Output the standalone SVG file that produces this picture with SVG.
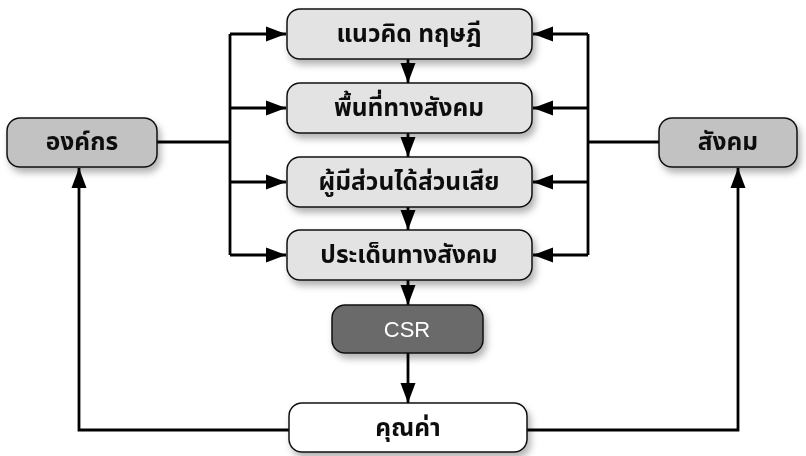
<svg xmlns="http://www.w3.org/2000/svg" width="806" height="456" viewBox="0 0 806 456">
<style>
.box{stroke:#111;stroke-width:1.5}
.light{fill:#e3e3e3}
.mid{fill:#c2c2c2}
.dark{fill:#6a6a6a}
.white{fill:#ffffff}
.t{font-family:"Noto Sans Thai","Noto Sans","DejaVu Sans",sans-serif;font-weight:bold;font-size:24.5px;fill:#111;text-anchor:middle;dominant-baseline:central}
.csr{font-family:"Liberation Sans",Arial,sans-serif;font-size:22px;fill:#fff;text-anchor:middle;dominant-baseline:central}
.c{fill:none;stroke:#000;stroke-width:2.8}
</style>
<defs>
<filter id="sh" x="-20%" y="-30%" width="140%" height="170%">
<feDropShadow dx="3" dy="5" stdDeviation="3.5" flood-color="#000" flood-opacity="0.3"/>
</filter>
<marker id="ah" markerUnits="userSpaceOnUse" markerWidth="22" markerHeight="18" viewBox="0 0 22 18" refX="20" refY="9" orient="auto">
<path d="M0,1.5 L20,9 L0,16.5 Z" fill="#000"/>
</marker>
</defs>
<g id="connectors">
<path class="c" d="M230,34 V255"/>
<path class="c" d="M157,142 H230"/>
<path class="c" d="M230,34 H286" marker-end="url(#ah)"/>
<path class="c" d="M230,108 H286" marker-end="url(#ah)"/>
<path class="c" d="M230,182 H286" marker-end="url(#ah)"/>
<path class="c" d="M230,255 H286" marker-end="url(#ah)"/>
<path class="c" d="M588,34 V255"/>
<path class="c" d="M659,142 H588"/>
<path class="c" d="M588,34 H533" marker-end="url(#ah)"/>
<path class="c" d="M588,108 H533" marker-end="url(#ah)"/>
<path class="c" d="M588,182 H533" marker-end="url(#ah)"/>
<path class="c" d="M588,255 H533" marker-end="url(#ah)"/>
<path class="c" d="M408,59 V83" marker-end="url(#ah)"/>
<path class="c" d="M408,133 V157" marker-end="url(#ah)"/>
<path class="c" d="M408,207 V230" marker-end="url(#ah)"/>
<path class="c" d="M408,280 V305" marker-end="url(#ah)"/>
<path class="c" d="M408,353 V403" marker-end="url(#ah)"/>
<path class="c" d="M289,430 H79 V168" marker-end="url(#ah)"/>
<path class="c" d="M527,430 H738 V168" marker-end="url(#ah)"/>
</g>
<g id="n1" filter="url(#sh)"><rect class="box light" x="287" y="9" width="245" height="50" rx="13"/><text class="t" x="409" y="34">แนวคิด ทฤษฎี</text></g>
<g id="n2" filter="url(#sh)"><rect class="box light" x="287" y="83" width="245" height="50" rx="13"/><text class="t" x="409" y="108">พื้นที่ทางสังคม</text></g>
<g id="n3" filter="url(#sh)"><rect class="box light" x="287" y="157" width="245" height="50" rx="13"/><text class="t" x="409" y="182">ผู้มีส่วนได้ส่วนเสีย</text></g>
<g id="n4" filter="url(#sh)"><rect class="box light" x="287" y="230" width="245" height="50" rx="13"/><text class="t" x="409" y="255">ประเด็นทางสังคม</text></g>
<g id="org" filter="url(#sh)"><rect class="box mid" x="7" y="118" width="150" height="49" rx="13"/><text class="t" x="82" y="142">องค์กร</text></g>
<g id="soc" filter="url(#sh)"><rect class="box mid" x="659" y="118" width="138" height="49" rx="13"/><text class="t" x="728" y="142">สังคม</text></g>
<g id="csr" filter="url(#sh)"><rect class="box dark" x="332" y="305" width="151" height="48" rx="13"/><text class="csr" x="407" y="329">CSR</text></g>
<g id="value" filter="url(#sh)"><rect class="box white" x="289" y="403" width="238" height="49" rx="13"/><text class="t" x="408" y="428">คุณค่า</text></g>
</svg>
